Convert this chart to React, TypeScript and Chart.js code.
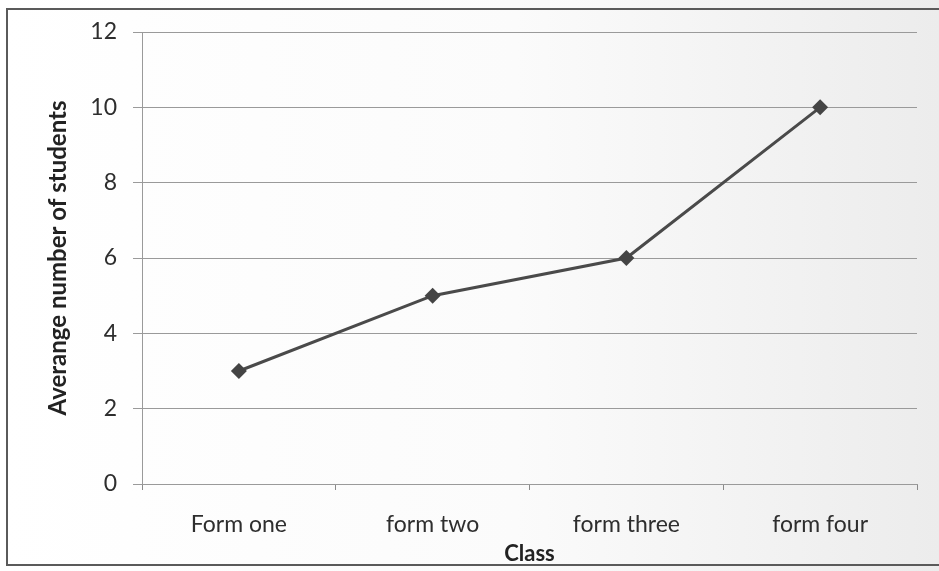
import React, { useEffect, useRef } from "react";
import { Chart, registerables } from "chart.js";

Chart.register(...registerables);

const classes = ["Form one", "form two", "form three", "form four"];
const averageStudents = [3, 5, 6, 10];
const yMin = 0;
const yMax = 12;
const yStep = 2;

const FONT = "Lato, 'Open Sans', sans-serif";

export default function App() {
  const canvasRef = useRef<HTMLCanvasElement | null>(null);

  useEffect(() => {
    if (!canvasRef.current) return;
    const chart = new Chart(canvasRef.current, {
      type: "line",
      data: {
        labels: classes,
        datasets: [
          {
            label: "Average number of students",
            data: averageStudents,
            borderColor: "#4a4a4a",
            backgroundColor: "#444444",
            borderWidth: 3,
            pointStyle: "rectRot",
            pointRadius: 8,
            pointBorderWidth: 0,
            tension: 0,
          },
        ],
      },
      options: {
        responsive: false,
        animation: false,
        layout: { padding: { left: 0, top: 32, right: 22, bottom: 0 } },
        plugins: {
          legend: { display: false },
          tooltip: { enabled: false },
        },
        scales: {
          x: {
            offset: true,
            afterFit: (s: any) => {
              s.height = 87;
            },
            grid: {
              offset: true,
              drawOnChartArea: false,
              drawTicks: true,
              tickLength: 6,
              color: "#8a8a8a",
            },
            border: { display: true, color: "#9a9a9a", width: 1 },
            ticks: {
              color: "#2e2e2e",
              font: { family: FONT, size: 23 },
              padding: 21,
            },
            title: {
              display: true,
              text: "Class",
              color: "#222222",
              font: { family: FONT, size: 22, weight: "bold" },
              padding: { top: 0, bottom: 4 },
            },
          },
          y: {
            min: yMin,
            max: yMax,
            afterFit: (s: any) => {
              s.width = 142;
            },
            grid: {
              color: "#9a9a9a",
              lineWidth: 1,
              drawTicks: true,
              tickLength: 9,
            },
            border: { display: true, color: "#9a9a9a", width: 1 },
            ticks: {
              stepSize: yStep,
              color: "#2e2e2e",
              font: { family: FONT, size: 23 },
              padding: 16,
            },
            title: {
              display: true,
              text: "Averange number of students",
              color: "#222222",
              font: { family: FONT, size: 24, weight: "bold" },
              padding: { top: 44, bottom: 0 },
            },
          },
        },
      },
    });
    return () => chart.destroy();
  }, []);

  return (
    <div
      style={{
        position: "fixed",
        left: 0,
        top: 0,
        width: 939,
        height: 571,
        overflow: "hidden",
        background: "linear-gradient(to right, #ffffff 0%, #fbfbfb 55%, #ececec 100%)",
      }}
    >
      <div
        style={{
          position: "absolute",
          left: 6,
          top: 8,
          width: 960,
          height: 558,
          border: "2px solid #5a5a5a",
          boxSizing: "border-box",
        }}
      />
      <canvas
        ref={canvasRef}
        width={939}
        height={571}
        style={{ position: "absolute", left: 0, top: 0 }}
      />
    </div>
  );
}
